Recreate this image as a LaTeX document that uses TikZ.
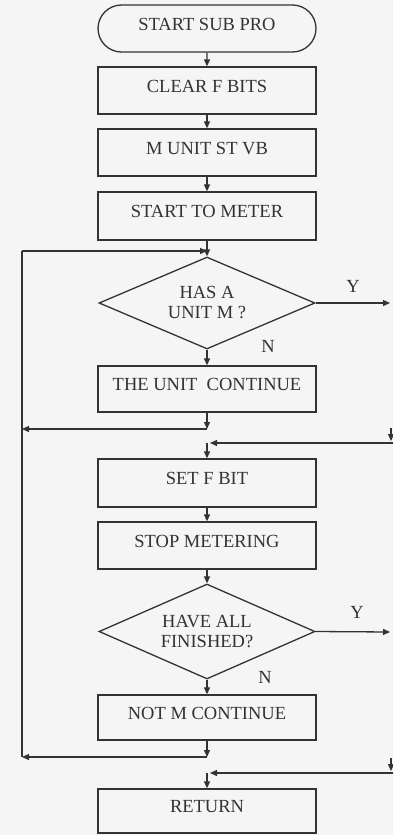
\documentclass[tikz,border=0pt]{standalone}
\usepackage{fontspec}
\setmainfont{Liberation Serif}
\usetikzlibrary{shapes.geometric,shapes.misc,arrows.meta}
\begin{document}
\begin{tikzpicture}[x=1pt,y=-1pt,
  ln/.style={line width=1.3pt, draw=black!80},
  arr/.style={ln, -{Triangle[length=7pt,width=6pt]}},
  txt/.style={font=\fontsize{18.5}{20}\selectfont, text=black!80},
  box/.style={txt, draw=black!80, line width=1.3pt, rectangle, minimum width=218pt, inner sep=0pt, text depth=9pt},
  term/.style={box, rounded rectangle},
  dec/.style={txt, draw=black!80, line width=1.3pt, diamond, aspect=2.5, minimum width=216pt, inner sep=0pt, align=center},
  lbl/.style={txt, inner sep=0pt}
]
\fill[black!4] (0,0) rectangle (393,835);
\useasboundingbox (0,0) rectangle (393,835);

\node[term, minimum height=47pt] (start) at (207,28.5) {START SUB PRO};
\node[box, minimum height=47pt] (clear) at (207,90.5) {CLEAR F BITS};
\node[box, minimum height=47pt] (munit) at (207,152.5) {M UNIT ST VB};
\node[box, minimum height=48pt] (startm) at (207,216) {START TO METER};
\node[dec, minimum height=92pt] (d1) at (207,303) {HAS A\\UNIT M ?};
\node[box, minimum height=46pt] (cont) at (207,389) {THE UNIT\ \ CONTINUE};
\node[box, minimum height=48pt] (setf) at (207,483) {SET F BIT};
\node[box, minimum height=47pt] (stopm) at (207,545.5) {STOP METERING};
\node[dec, minimum height=95pt] (d2) at (207,631.5) {HAVE ALL\\FINISHED?};
\node[box, minimum height=45pt] (notm) at (207,717.5) {NOT M CONTINUE};
\node[box, minimum height=44pt] (ret) at (207,811) {RETURN};

\node[lbl] (y1) at (353,286) {Y};
\node[lbl] (n1) at (268,346) {N};
\node[lbl] (y2) at (357,612) {Y};
\node[lbl] (n2) at (265,677) {N};

% coordinates
\coordinate (j1) at (207,251);
\coordinate (l1) at (22,251);
\coordinate (j2) at (207,429);
\coordinate (l2) at (22,429);
\coordinate (j4) at (207,757);
\coordinate (l4) at (22,757);
\coordinate (r1) at (390,303);
\coordinate (ra) at (391,428);
\coordinate (rb) at (391,441);
\coordinate (rc) at (393,443);
\coordinate (j3) at (210,443);
\coordinate (j3b) at (207,443);
\coordinate (r2) at (390,632);
\coordinate (rd) at (391,758);
\coordinate (re) at (391,771);
\coordinate (rf) at (393,773);
\coordinate (j5) at (210,773);
\coordinate (j5b) at (207,773);

\draw[arr] (start) -- (clear);
\draw[arr] (clear) -- (munit);
\draw[arr] (munit) -- (startm);
\draw[arr] (startm) -- (d1);
\draw[arr] (l1) -- (j1);
\draw[ln] (l1) -- (l4);
\draw[arr] (d1) -- (cont);
\draw[arr] (d1.east) -- (r1);
\draw[arr] (cont) -- (j2);
\draw[arr] (j2) -- (l2);
\draw[arr] (ra) -- (rb);
\draw[arr] (rc) -- (j3);
\draw[arr] (j3b) -- (setf);
\draw[arr] (setf) -- (stopm);
\draw[arr] (stopm) -- (d2);
\draw[arr] (d2.east) -- (r2);
\draw[arr] (d2) -- (notm);
\draw[arr] (notm) -- (j4);
\draw[arr] (j4) -- (l4);
\draw[arr] (rd) -- (re);
\draw[arr] (rf) -- (j5);
\draw[arr] (j5b) -- (ret);
\end{tikzpicture}
\end{document}
